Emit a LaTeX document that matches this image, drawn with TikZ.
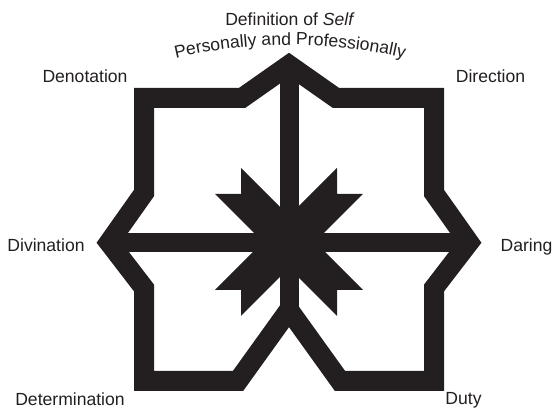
\documentclass[tikz,border=0pt]{standalone}
\usepackage{fontspec}
\setmainfont{Liberation Sans}
\usepackage{tikz}
\usetikzlibrary{decorations.text}
\definecolor{ink}{HTML}{231F20}

\begin{document}
\begin{tikzpicture}[
  frame/.style={draw=ink, line width=0.40cm, line join=miter},
  bar/.style={draw=ink, line width=0.38cm},
  lbl/.style={ink, anchor=base, inner sep=0pt}]
  \useasboundingbox (0,0) rectangle (11.06,8.18);
  % outer eight-point frame
  \draw[frame] (2.88,6.22) -- (4.84,6.22) -- (5.78,6.88) -- (6.72,6.22) -- (8.68,6.22)
    -- (8.68,4.32) -- (9.38,3.33) -- (8.68,2.42) -- (8.68,0.56) -- (6.80,0.56)
    -- (5.78,1.98) -- (4.76,0.56) -- (2.88,0.56) -- (2.88,2.42) -- (2.18,3.33)
    -- (2.88,4.32) -- cycle;
  \draw[bar] (5.78,6.88) -- (5.78,1.98);
  \draw[bar] (2.18,3.33) -- (9.38,3.33);
  % central star
  \fill[ink, shift={(5.78,3.34)}] (0,0.52) -- (0.96,1.48) -- (0.96,0.96) -- (1.48,0.96)
    -- (0.52,0) -- (1.48,-0.96) -- (0.96,-0.96) -- (0.96,-1.48) -- (0,-0.52)
    -- (-0.96,-1.48) -- (-0.96,-0.96) -- (-1.48,-0.96) -- (-0.52,0) -- (-1.48,0.96)
    -- (-0.96,0.96) -- (-0.96,1.48) -- cycle;
  % labels
  \node[lbl] (self) at (5.80,7.66) {Definition of \textit{Self}};
  \path[decorate, decoration={text along path, text align=center,
        text={|\color{ink}|Personally and Professionally}}]
    (5.80,-2.72) ++(105:10) arc[start angle=105, end angle=75, radius=10];
  \node[lbl] (denot) at (1.70,6.52) {Denotation};
  \node[lbl] (direc) at (9.81,6.52) {Direction};
  \node[lbl] (divin) at (0.92,3.15) {Divination};
  \node[lbl] (daring) at (10.53,3.15) {Daring};
  \node[lbl] (determ) at (1.40,0.06) {Determination};
  \node[lbl] (duty) at (9.27,0.08) {Duty};
\end{tikzpicture}
\end{document}
